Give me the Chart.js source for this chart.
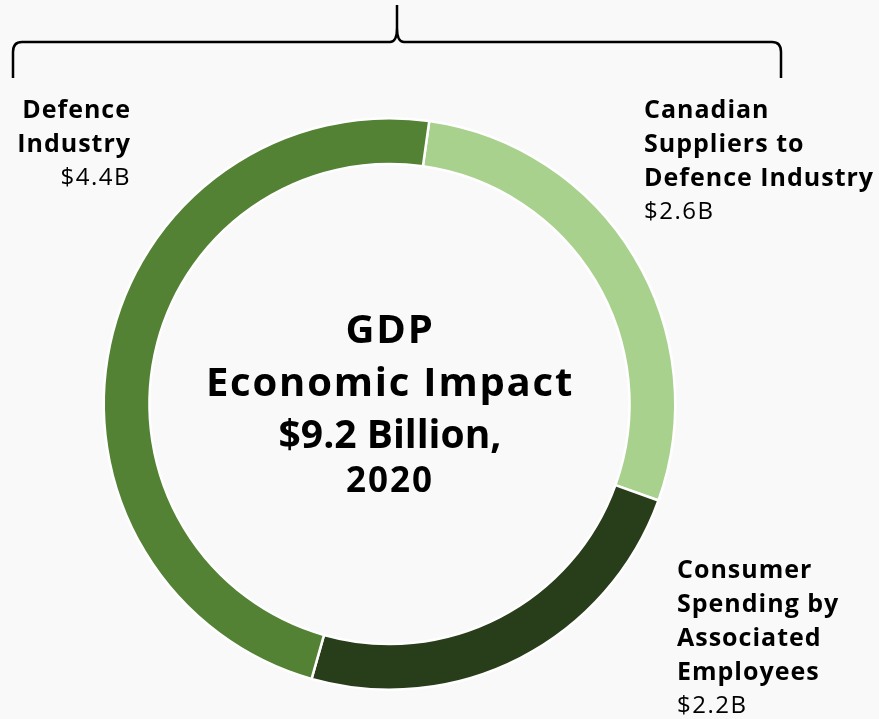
<!DOCTYPE html>
<html>
<head>
<meta charset="utf-8">
<script src="https://cdn.jsdelivr.net/npm/chart.js@4.4.1/dist/chart.umd.min.js"></script>
<style>
  html, body { margin:0; padding:0; background:#f9f9f9; }
  #wrap { position:relative; width:879px; height:719px; overflow:hidden; font-family: "Open Sans", Lato, sans-serif; color:#000; }
  #chart { position:absolute; left:0; top:0; }
  .lbl { position:absolute; font-size:25px; line-height:34px; font-weight:bold; letter-spacing:1px; white-space:nowrap; }
  .lbl .val { font-weight:normal; font-size:24px; letter-spacing:1.5px; }
  .ctr { position:absolute; left:140px; width:500px; text-align:center; font-weight:bold; white-space:nowrap; }
</style>
</head>
<body>
<div id="wrap">
  <canvas id="chart" width="879" height="719"></canvas>
</div>
<script>
// data
const categories = ['Canadian Suppliers to Defence Industry', 'Consumer Spending by Associated Employees', 'Defence Industry'];
const labelLines = [['Canadian', 'Suppliers to', 'Defence Industry'], ['Consumer', 'Spending by', 'Associated', 'Employees'], ['Defence', 'Industry']];
const values = [2.6, 2.2, 4.4];      // $ billions
const colors = ['#a9d18e', '#283d19', '#548235'];
const centerLines = ['GDP', 'Economic Impact', '$9.2 Billion,', '2020'];

const wrap = document.getElementById('wrap');

// label boxes
const labelPos = [
  {x: 644, top: 91, align: 'left'},
  {x: 677, top: 551, align: 'left'},
  {x: 131, top: 91, align: 'right'}
];

categories.forEach((c, i) => {
  const d = document.createElement('div');
  d.className = 'lbl';
  const p = labelPos[i];
  if (p.align === 'right') {
    d.style.right = (879 - p.x) + 'px';
    d.style.textAlign = 'right';
  } else {
    d.style.left = p.x + 'px';
  }
  d.style.top = p.top + 'px';
  d.innerHTML = labelLines[i].map(l => '<div>' + l + '</div>').join('') +
    '<div class="val">$' + values[i].toFixed(1) + 'B</div>';
  wrap.appendChild(d);
});

// center text
const ctrTops = [302, 355, 407, 456];
const ctrSizes = [40, 40, 39, 35];
const ctrSpacing = [1.8, 1.8, 0, 2];
centerLines.forEach((t, i) => {
  const d = document.createElement('div');
  d.className = 'ctr';
  d.style.top = ctrTops[i] + 'px';
  d.style.fontSize = ctrSizes[i] + 'px';
  d.style.letterSpacing = ctrSpacing[i] + 'px';
  d.style.lineHeight = (i < 3 ? 52 : 45) + 'px';
  d.textContent = t;
  wrap.appendChild(d);
});

// curly bracket over the ring
const bracket = {
  id: 'bracket',
  afterDraw(chart) {
    const ctx = chart.ctx;
    ctx.save();
    ctx.strokeStyle = '#000';
    ctx.lineWidth = 2.5;
    ctx.beginPath();
    ctx.moveTo(13, 78);
    ctx.lineTo(13, 52);
    ctx.quadraticCurveTo(13, 42, 22, 42);
    ctx.lineTo(390, 42);
    ctx.quadraticCurveTo(397, 42, 397, 28);
    ctx.lineTo(397, 5);
    ctx.moveTo(397, 28);
    ctx.quadraticCurveTo(397, 42, 404, 42);
    ctx.lineTo(772, 42);
    ctx.quadraticCurveTo(781, 42, 781, 52);
    ctx.lineTo(781, 78);
    ctx.stroke();
    ctx.restore();
  }
};

new Chart(document.getElementById('chart').getContext('2d'), {
  type: 'doughnut',
  data: {
    labels: categories,
    datasets: [{
      data: values,
      backgroundColor: colors,
      borderColor: '#ffffff',
      borderWidth: 2.5
    }]
  },
  options: {
    responsive: false,
    animation: false,
    rotation: 8,
    cutout: '84%',
    layout: { padding: { left: 102, right: 202, top: 117, bottom: 28 } },
    plugins: {
      legend: { display: false },
      tooltip: { enabled: false }
    }
  },
  plugins: [bracket]
});
</script>
</body>
</html>
